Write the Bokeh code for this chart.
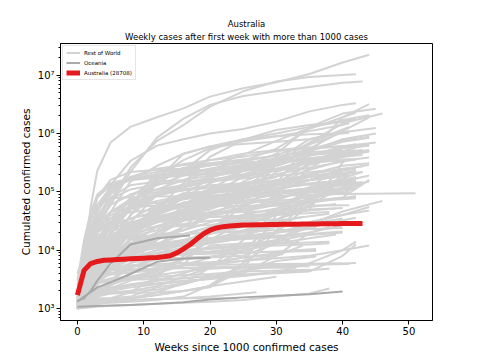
from bokeh.plotting import figure
from bokeh.models import Range1d, Title, CustomJSTickFormatter, SingleIntervalTicker, LogTicker
from bokeh.embed import file_html
from bokeh.resources import INLINE

# weeks at which the grey/oceania curves were read (last value of each curve sits at its end week)
weeks_grid = [0, 1, 2, 3, 5, 8, 12, 16, 20, 25, 30, 35, 40]

# Rest of World: cumulated confirmed cases, in thousands
rest_cases_k = [
    [1.0, 6, 55, 230, 700, 1300, 1900, 2700, 4300, 6000, 7600, 10500, 16500, 22500],
    [1.2, 3, 8, 22, 70, 260, 750, 1400, 2900, 5300, 7800, 9300, 10100, 10400],
    [1.1, 3.5, 10, 25, 60, 220, 850, 1800, 3100, 4400, 5300, 6300, 7400, 7800],
    [1.3, 4, 15, 45, 130, 340, 620, 800, 1000, 1200, 1600, 2400, 3100, 3300],
    [1.4, 4, 15, 35, 90, 180, 250, 290, 310, 340, 550, 1200, 1900, 3200],
    [1.2, 5, 15, 30, 80, 130, 150, 160, 190, 260, 450, 1300, 2200, 2650],
    [1.1, 6, 20, 45, 100, 180, 220, 235, 240, 260, 320, 700, 1500, 2200],
    [2.5, 8, 30, 80, 160, 220, 240, 250, 280, 430, 750, 1250, 1700, 2050],
    [1.5, 7, 15, 30, 60, 90, 130, 190, 250, 330, 430, 650, 1050, 1250],
    [1.5, 6, 22, 60, 120, 160, 175, 190, 200, 235, 290, 550, 1100, 1900],
    [1.2, 10, 35, 80, 130, 160, 185, 210, 250, 290, 350, 450, 1900, 2300],
    [1.2, 2.5, 4, 6, 12, 30, 90, 230, 520, 800, 1000, 1300, 1600, 1800],
    [1.1, 2, 3, 4, 7, 16, 50, 140, 400, 780, 1150, 1400, 1600, 1700],
    [1.1, 2.5, 5, 10, 30, 80, 180, 350, 560, 740, 900, 1100, 1400, 1500],
    [1.0, 2, 5, 12, 45, 150, 280, 450, 600, 800, 900, 970, 1000, 1030],
    [1.2, 1.7, 2.5, 4, 10, 40, 160, 450, 600, 660, 720, 800, 1100],
    [1.1, 2.5, 5, 8, 14, 22, 33, 45, 60, 90, 140, 700, 1300],
    [1.1, 2, 4, 8, 15, 25, 40, 60, 90, 180, 350, 800, 1100],
    [1.2, 5, 12, 20, 35, 45, 50, 55, 70, 110, 300, 520, 750, 880],
    [1.1, 2.5, 4.5, 7, 14, 25, 50, 80, 140, 230, 380, 540, 750, 830],
    [1.1, 2.5, 5, 9, 18, 60, 220, 300, 350, 400, 500, 550, 600, 630],
    [1.2, 2.5, 4, 6, 8, 9, 11, 13, 20, 60, 300, 500, 720, 850],
    [1.3, 6, 15, 28, 45, 55, 58, 62, 70, 85, 290, 560, 610, 660],
    [1.1, 4, 10, 20, 45, 65, 90, 105, 120, 135, 180, 340, 500, 660],
    [1.0, 2.5, 4.5, 7, 20, 60, 170, 260, 290, 310, 330, 450, 500, 510],
    [1.1, 2, 2.5, 3, 10, 40, 140, 250, 350, 450, 520, 580, 600],
    [1.1, 3, 4.5, 6.5, 11, 21, 45, 90, 170, 290, 380, 430, 480],
    [1.0, 2.5, 5, 10, 25, 60, 140, 250, 310, 360, 410, 480, 510],
    [1.2, 4, 9, 13, 16, 17, 22, 60, 110, 230, 320, 350, 460, 530],
    [1.3, 5, 11, 16, 24, 29, 37, 45, 55, 75, 140, 310, 400, 500],
    [1.1, 3, 6, 9, 16, 27, 43, 60, 81, 85, 140, 290, 400, 500],
    [1.2, 2.5, 4, 7, 20, 60, 160, 230, 290, 320, 340, 355, 362],
    [4.0, 8, 18, 25, 28, 30, 31, 35, 40, 52, 140, 300, 420, 490],
    [1.3, 6, 10, 13, 15, 16, 17, 19, 25, 40, 90, 240, 340, 390],
    [1.1, 2.5, 4, 5, 7, 8, 12, 25, 60, 150, 250, 350, 430, 450],
    [1.1, 2.5, 5, 11, 16, 17, 18, 32, 55, 80, 105, 160, 240, 290],
    [1.1, 1.9, 2.5, 3.1, 3.8, 4.2, 4.5, 5.5, 20, 80, 220, 320, 350],
    [1.0, 2, 6, 12, 30, 60, 95, 135, 180, 230, 260],
    [1.2, 2.5, 4, 6, 10, 22, 45, 80, 100, 120, 140, 200, 250, 275],
    [1.5, 3, 5.5, 10, 17, 29, 43, 60, 75, 95, 140, 180, 210, 230],
    [1.4, 3, 7, 20, 30, 34, 60, 80, 110, 130, 160, 190, 215],
    [1.1, 2, 3, 4, 9, 20, 55, 90, 105, 110, 130, 160, 190],
    [1.1, 2.3, 4, 7, 20, 50, 85, 110, 130, 140, 143, 160, 180],
    [1.1, 1.2, 1.3, 1.6, 3, 6, 15, 45, 90, 140, 185, 230],
    [1.1, 2, 3, 4, 8, 22, 60, 95, 100, 105, 115, 140, 155],
    [1.2, 2, 2.5, 2.7, 2.9, 3.2, 4.5, 7, 15, 30, 50, 110, 140, 145],
    [1.0, 1.7, 2.8, 5, 12, 30, 35, 40, 50, 80, 95, 98],
    [1.5, 12, 35, 60, 78, 81, 83, 84, 84.5, 85, 86, 88, 92, 95],
    [1.4, 5, 12, 18, 22, 24, 25, 26, 27, 32, 45, 70, 80, 160],
    [1.1, 2, 3, 5, 7, 10, 12, 13, 16, 18, 32, 75, 150, 190],
    [1.1, 1.5, 2, 3, 5, 15, 40, 80, 100, 140, 160],
    [1.2, 2, 3, 5, 7, 10, 15, 25, 38, 50, 60, 85, 100],
    [1.1, 2, 3, 5, 10, 20, 35, 50, 60, 65, 70, 80, 100],
    [1.1, 3, 8, 15, 25, 35, 45, 55, 57, 58, 58, 58.5, 59],
    [1.3, 2.5, 3.5, 5, 6, 7, 8.5, 9, 9.3, 10, 20, 60, 120, 140],
    [1.2, 6, 8, 8.5, 9.8, 10.7, 11.5, 12.5, 14, 18, 25, 28, 46, 70],
    [1.2, 3, 4, 6, 7, 8, 8.5, 8.8, 9.5, 11, 15, 30, 40, 55],
    [1.1, 2, 4, 6, 8, 13, 25, 35, 43, 45, 47, 50, 53],
    [1.0, 1.7, 3, 5, 10, 20, 30, 35, 37, 39, 42, 48, 52],
    [1.1, 1.5, 2.5, 5, 10, 18, 25, 28, 32, 36, 40, 45],
    [1.1, 2.3, 3.5, 4.5, 6, 6.9, 7.2, 7.4, 7.8, 9, 15, 25, 36],
    [1.2, 1.5, 2, 2.8, 3.3, 3.5, 3.8, 7, 15, 30, 40, 47],
    [1.1, 1.5, 2, 3, 6, 10, 13, 14, 15, 17, 20, 30],
    [1.1, 1.5, 2, 3, 8, 12, 16, 19, 20, 21, 22, 24],
    [1.1, 2, 3.5, 6, 9, 11, 12, 13, 13.5, 17, 20, 24],
    [1.2, 1.8, 2.5, 3.5, 7, 15, 18, 19, 20, 21, 26, 28],
    [1.0, 1.5, 2.3, 3.5, 6, 9, 11, 14, 15, 15.5, 16.5, 20],
    [1.1, 2, 2.6, 2.9, 3, 3.1, 3.2, 3.3, 3.6, 3.8, 4.2, 6, 10, 12],
    [1.0, 1.5, 1.9, 2.1, 2.3, 2.5, 3, 4, 5.5, 6.6, 7.3, 8, 10, 14],
    [1.1, 1.5, 2.3, 2.8, 3.1, 3.3, 3.5, 3.7, 3.9, 4.3, 4.6],
    [1.1, 1.8, 2.5, 3, 4.5, 8, 15, 25, 40, 55, 65, 72, 75, 78],
    [1.0, 1.05, 1.1, 1.2, 1.3, 1.4, 1.45, 1.5, 1.5],
    [1.0, 1.2, 1.5, 1.8, 2.2, 2.5, 2.7, 3.0, 3.2, 4.5, 6.5, 7.8],
    [1.0, 1.3, 1.7, 2.2, 2.6, 3.3, 4.3, 7, 12, 13, 15],
    [1.1, 1.5, 1.7, 1.75, 1.8, 1.85, 1.9, 2.0, 2.4, 4.5, 5.3, 5.6, 5.8],
    [1.1, 1.3, 1.5, 1.8, 1.9, 2.0, 2.1, 2.6, 3.5, 4, 8, 20, 30],
    [1.1, 1.3, 1.4, 1.5, 1.5, 1.6, 2.3, 2.7, 5, 15, 45, 100, 170, 220],
    [1.0, 1.05, 1.1, 1.2, 1.25, 1.3, 1.4, 1.6, 2.5, 6, 15, 28, 35],
    [1.0, 1.1, 1.2, 1.3, 1.5, 1.9, 3.5, 8, 15, 22],
    [1.0, 1.1, 1.15, 1.2, 1.3, 1.4, 1.45, 1.5, 1.6, 1.8, 1.9],
    [1.0, 1.2, 1.5, 1.8, 2.2, 2.6, 3, 3.3, 3.6, 3.8, 4.0, 4.3, 8, 12.6],
    [1.0, 1.3, 1.7, 2.1, 2.6, 3.2, 3.7, 4.3, 4.8, 5.2, 5.5, 5.8, 5.9, 6.0],
    [1.0, 1.2, 1.4, 1.7, 2.2, 3, 4, 5.5, 7.5, 10, 13, 16, 18.6],
    [1.0, 2, 3.5, 5, 9, 13, 18, 22, 38, 80, 130, 250, 560, 660],
    [1.0, 2.5, 4, 6, 8.5, 10, 11, 13, 25, 31, 34, 50, 320, 370],
    [1.1, 2.5, 5, 9, 20, 35, 45, 55, 65, 70, 75, 110, 160, 210],
    [1.0, 1.1, 1.2, 1.3, 1.4, 1.5, 1.7, 2.0, 2.3, 6, 40, 120, 240],
    [1.1, 2, 3.5, 5.5, 9, 13, 20, 35, 70, 95, 115, 135, 160, 180],
    [1.0, 1.5, 2.5, 4, 10, 25, 50, 75, 95, 115, 135, 160, 180],
    [1.0, 1.6, 3, 6, 13, 27, 45, 60, 80, 100, 115, 135, 150, 155],
    [1.0, 1.8, 3, 5, 14, 40, 90, 110, 115, 120, 127, 135, 140, 145],
    [1.0, 1.5, 2.5, 4, 9, 19, 45, 65, 80, 90, 100, 115, 135, 150],
    [1.1, 1.6, 2.5, 4, 10, 21, 33, 40, 44, 50, 70, 120, 150, 163],
    [1.0, 1.5, 2.5, 4.5, 10, 23, 45, 65, 78, 90, 100, 115, 125],
    [1.0, 1.6, 2.5, 5, 12, 25, 45, 60, 70, 80, 95, 105, 115, 130],
    [1.1, 1.5, 2.2, 3.5, 9, 20, 35, 50, 70, 85, 98, 105, 110, 115],
    [1.0, 1.4, 2, 3, 5, 8, 20, 45, 70, 100, 120],
    [1.0, 1.2, 1.4, 1.6, 1.8, 2, 2.4, 3.5, 5, 10, 30, 80, 120, 150],
    [1.1, 1.5, 2, 2.5, 4.5, 10, 20, 32, 37, 39, 42, 80, 190, 225],
    [1.0, 1.3, 1.6, 1.9, 2.5, 4, 8, 15, 20, 27, 40, 75, 100, 115],
    [1.1, 1.5, 2, 3, 7, 20, 32, 38, 44, 46, 60, 70, 77, 80],
    [1.1, 2.5, 3.3, 3.7, 3.9, 4.1, 5, 7, 7.5, 8, 13, 30, 40, 48],
    [1.0, 1.2, 1.3, 1.4, 1.45, 1.5, 1.9, 2.7, 3.4, 5, 22, 75, 110, 135],
    [1.0, 1.5, 2.5, 4, 7, 10, 12, 13, 15, 20, 28, 30],
    [1.0, 1.2, 1.5, 2, 3, 5, 8, 11, 15, 22, 30, 37],
    [1.0, 1.4, 1.9, 2.8, 4.5, 7, 10, 12, 14, 15.5, 17, 20, 25],
    [1.0, 1.5, 2.2, 3, 5, 7, 8.5, 10, 11, 12, 14, 19, 21],
    [1.0, 1.6, 3, 4.5, 6, 7.5, 8, 8.5, 9, 11, 15, 24],
    [1.0, 1.5, 2.5, 4, 7, 10, 13, 15, 16, 17, 18],
    [1.0, 1.7, 2.7, 3.5, 4.5, 5.5, 5.8, 6, 6.2, 6.5, 8, 12],
    [1.1, 1.6, 2.2, 3, 4, 5, 7, 9, 11, 12, 13, 13.5, 14],
    [1.1, 2.5, 4, 5, 6, 7, 8.5, 9.5, 10.5, 11.5, 12, 12.5, 13.2],
    [1.0, 1.5, 2.5, 4, 6, 7.5, 8, 8.5, 8.8, 9, 9.5, 10.5],
    [1.1, 1.7, 2.5, 3.5, 4.5, 6, 7.5, 8.5, 8.8, 9, 9.4, 9.7],
    [1.0, 1.3, 1.6, 2, 2.5, 3.5, 4.5, 5.5, 6, 7.5, 9.5],
    [1.0, 1.2, 1.5, 1.8, 2, 2.5, 3, 4, 6, 7.5, 8.5],
    [1.0, 1.5, 2.5, 3.5, 4.7, 5.3, 5.4, 5.5, 5.6, 5.7, 5.8, 5.9],
    [1.0, 1.8, 3, 3.8, 4.5, 4.7, 4.8, 4.9, 4.9, 5, 5],
    [1.0, 1.3, 1.8, 3, 4, 4.5, 4.8, 5, 5.1, 5.2, 5.3],
    [1.0, 1.02, 1.05, 1.08, 1.1, 1.15, 1.2, 1.25, 1.3, 1.4, 1.6, 1.8, 2.2],
    [1.05, 1.1, 1.15, 1.25, 1.35, 1.5, 1.7, 2.0, 2.4, 2.9, 3.5],
    [1.1, 1.3, 1.5, 1.7, 2.0, 2.3, 2.6, 2.9, 3.2, 3.6, 4.2, 4.8],
    [1.3, 5, 20, 50, 110, 170, 200, 215, 230, 250, 300, 500, 800, 1000],
    [1.2, 4, 12, 30, 60, 90, 110, 130, 160, 200, 280, 420, 560, 620],
    [1.5, 6, 18, 40, 75, 110, 135, 150, 165, 180, 230, 370, 450, 520],
    [1.1, 3, 9, 20, 45, 75, 100, 120, 150, 190, 250, 330, 400, 430],
    [1.2, 3, 7, 15, 35, 70, 110, 160, 220, 280, 330, 380, 420, 440],
    [1.0, 2, 4, 9, 25, 55, 90, 120, 150, 170, 200, 260, 330, 360],
    [2.0, 6, 14, 25, 40, 55, 65, 75, 85, 100, 130, 200, 280, 310],
    [1.1, 2.5, 6, 14, 30, 50, 70, 85, 95, 110, 140, 180, 230, 250],
    [1.3, 3, 6, 10, 18, 28, 38, 48, 60, 80, 110, 160, 200, 220],
    [1.0, 2, 3.5, 6, 12, 20, 30, 42, 55, 70, 90, 110, 130, 140],
    [1.2, 2.5, 4, 6.5, 11, 18, 26, 35, 45, 60, 80, 100, 115, 125],
    [1.1, 2, 3, 4.5, 7, 11, 16, 22, 30, 40, 52, 65, 78, 85],
    [1.0, 1.8, 2.8, 4, 6, 9, 13, 18, 25, 35, 45, 55, 62],
    [1.0, 1.6, 2.4, 3.4, 5, 7.5, 10, 14, 19, 25, 32, 38, 42],
    [1.1, 1.8, 2.6, 3.5, 5, 7, 9, 11, 13, 16, 20, 26, 32],
    [3.0, 15, 45, 90, 140, 170, 190, 200, 210, 230, 280, 420, 600, 700],
]
rest_end_week = [
    44, 42, 43, 42, 44, 45, 46, 44, 45, 44, 42, 42, 41, 41, 41, 40, 41, 41,
    44, 42, 42, 44, 44, 44, 42, 41, 41, 39, 43, 44, 44, 42, 44, 44, 41, 44,
    41, 35, 43, 42, 41, 41, 39, 37, 40, 43, 38, 51, 44, 44, 34, 41, 40, 41,
    43, 46, 44, 40, 39, 38, 42, 33, 36, 40, 36, 40, 40, 44, 42, 35, 42, 24,
    36, 32, 41, 42, 43, 40, 33, 27, 42, 42, 39, 42, 41, 41, 39, 42, 39, 42,
    43, 42, 42, 39, 42, 42, 32, 44, 42, 42, 42, 44, 43, 33, 34, 38, 40, 34,
    31, 34, 38, 38, 36, 36, 32, 31, 40, 33, 35, 38, 30, 38,
    45, 44, 44, 43, 42, 42, 44, 42, 43, 42, 41, 42, 39, 38, 38, 45,
]

# Oceania (without Australia), in thousands
oceania_cases_k = [
    [1.35, 1.5, 2.0, 3.0, 5.9, 12.5, 16.0, 17.5, 17.8],
    [1.3, 1.6, 1.9, 2.3, 2.8, 3.9, 6.3, 7.2, 7.4],
    [1.07, 1.08, 1.09, 1.1, 1.12, 1.15, 1.2, 1.28, 1.42, 1.55, 1.65, 1.75, 1.95],
]
oceania_end_week = [17, 20, 40]

# Australia, weekly cumulated cases, in thousands
australia_weeks = list(range(44))
australia_cases_k = [
    1.7, 4.5, 5.9, 6.4, 6.7, 6.8, 6.9, 7.0, 7.1, 7.2, 7.3, 7.4, 7.5, 7.7,
    8.0, 9.0, 10.5, 12.5, 15.5, 19.0, 22.0, 24.0, 25.3, 26.0, 26.5, 26.9,
    27.1, 27.3, 27.4, 27.5, 27.6, 27.7, 27.8, 27.9, 28.0, 28.1, 28.2, 28.3,
    28.4, 28.5, 28.55, 28.6, 28.65, 28.708,
]
australia_total = 28708

title_main = "Australia"
title_sub = "Weekly cases after first week with more than 1000 cases"
x_label = "Weeks since 1000 confirmed cases"
y_label = "Cumulated confirmed cases"


def curves(values_k, ends):
    xs, ys = [], []
    for vals, end in zip(values_k, ends):
        n = len(vals)
        xs.append(weeks_grid[:n - 1] + [end])
        ys.append([v * 1000 for v in vals])
    return xs, ys


FONT = "DejaVu Sans"

p = figure(width=480, height=360, y_axis_type="log",
           x_range=Range1d(-2.55, 53.55), y_range=Range1d(622, 3.5e7),
           output_backend="svg", toolbar_location=None, title=None,
           min_border_left=60, min_border_right=48, min_border_top=43,
           min_border_bottom=40)

p.add_layout(Title(text=title_sub, align="center", text_font=FONT,
                   text_font_size="8.5px", text_font_style="normal",
                   text_color="black", standoff=3), "above")
p.add_layout(Title(text=title_main, align="center", text_font=FONT,
                   text_font_size="8.5px", text_font_style="normal",
                   text_color="black", standoff=0), "above")

rx, ry = curves(rest_cases_k, rest_end_week)
p.multi_line(rx, ry, line_color="#d3d3d3", line_width=2, line_join="round",
             legend_label="Rest of World")
ox, oy = curves(oceania_cases_k, oceania_end_week)
p.multi_line(ox, oy, line_color="#a9a9a9", line_width=2, line_join="round",
             legend_label="Oceania")
p.line(australia_weeks, [v * 1000 for v in australia_cases_k],
       line_color="#e41a1c", line_width=5, line_join="round",
       legend_label=f"Australia ({australia_total})")

p.xgrid.visible = False
p.ygrid.visible = False
p.outline_line_color = "black"
p.outline_line_width = 1
p.background_fill_color = "white"
p.border_fill_color = "white"

p.xaxis.ticker = SingleIntervalTicker(interval=10, num_minor_ticks=0)
p.yaxis.ticker = LogTicker(num_minor_ticks=10)
p.yaxis.formatter = CustomJSTickFormatter(code="""
const e = Math.round(Math.log10(tick));
const sup = {'0':'\u2070','1':'\u00b9','2':'\u00b2','3':'\u00b3','4':'\u2074','5':'\u2075','6':'\u2076','7':'\u2077','8':'\u2078','9':'\u2079','-':'\u207b'};
return '10' + String(e).split('').map(c => sup[c]).join('');
""")

for ax in (p.xaxis[0], p.yaxis[0]):
    ax.major_label_text_font = FONT
    ax.major_label_text_font_size = "10px"
    ax.major_label_text_color = "black"
    ax.axis_label_text_font = FONT
    ax.axis_label_text_font_size = "10.5px"
    ax.axis_label_text_font_style = "normal"
    ax.axis_label_text_color = "black"
    ax.axis_line_color = "black"
    ax.major_tick_line_color = "black"
    ax.minor_tick_line_color = "black"
    ax.major_tick_in = 0
    ax.major_tick_out = 4
    ax.minor_tick_in = 0
    ax.major_label_standoff = 2
    ax.axis_label_standoff = 3

p.xaxis.axis_label = x_label
p.yaxis.axis_label = y_label
p.xaxis.minor_tick_out = 0
p.yaxis.minor_tick_out = 2

lg = p.legend[0]
lg.location = "top_left"
lg.label_text_font = FONT
lg.label_text_font_size = "5.5px"
lg.label_text_color = "black"
lg.glyph_width = 14
lg.glyph_height = 7
lg.label_height = 7
lg.label_standoff = 4
lg.spacing = 3
lg.padding = 3
lg.margin = 2
lg.border_line_color = "#cccccc"
lg.border_line_width = 1
lg.background_fill_alpha = 0.8

with open("out.html", "w", encoding="utf-8") as f:
    f.write(file_html(p, INLINE))
